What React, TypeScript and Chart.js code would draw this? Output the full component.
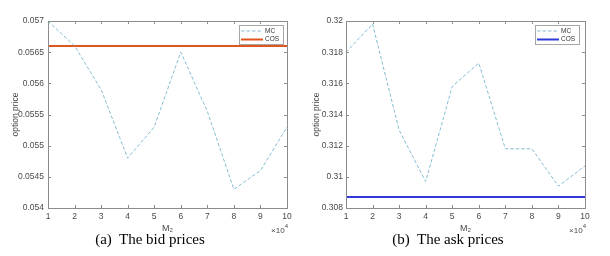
import React, { useEffect, useRef } from "react";
import { Chart, registerables } from "chart.js";

Chart.register(...registerables);

// ---------- data ----------
const M2 = [10000, 20000, 30000, 40000, 50000, 60000, 70000, 80000, 90000, 100000];
const xTickLabels = ["1", "2", "3", "4", "5", "6", "7", "8", "9", "10"];
const seriesNames = ["MC", "COS"];

const bidMC = [0.057, 0.0566, 0.0559, 0.0548, 0.0553, 0.0565, 0.05555, 0.0543, 0.0546, 0.0553];
const bidCOS = 0.0566;
const bidYTicks = [0.054, 0.0545, 0.055, 0.0555, 0.056, 0.0565, 0.057];

const askMC = [0.318, 0.3198, 0.313, 0.3097, 0.3158, 0.3173, 0.3118, 0.3118, 0.3094, 0.3107];
const askCOS = 0.3087;
const askYTicks = [0.308, 0.31, 0.312, 0.314, 0.316, 0.318, 0.32];

const captions = ["(a)  The bid prices", "(b)  The ask prices"];

// ---------- styling ----------
const MC_COLOR = "#86bdd3";
const COS_BID = "#e0561f";
const COS_ASK = "#2f3bd6";
const TEXT = "#4a4a4a";
const AXIS = "#8c8c8c";
const FONT = "'Liberation Sans', Arial, sans-serif";

const matlabAxes = {
  id: "matlabAxes",
  afterDraw(chart: any, _args: any, opts: any) {
    const { ctx, chartArea: a, scales } = chart;
    const xs = scales.x;
    const ys = scales.y;
    ctx.save();
    ctx.setLineDash([]);
    ctx.strokeStyle = AXIS;
    ctx.lineWidth = 1;
    ctx.strokeRect(a.left + 0.5, a.top + 0.5, a.right - a.left, a.bottom - a.top);
    const tl = 3;
    ctx.beginPath();
    xs.ticks.forEach((t: any) => {
      const p = Math.round(xs.getPixelForValue(t.value)) + 0.5;
      ctx.moveTo(p, a.bottom);
      ctx.lineTo(p, a.bottom - tl);
      ctx.moveTo(p, a.top);
      ctx.lineTo(p, a.top + tl);
    });
    ys.ticks.forEach((t: any) => {
      const p = Math.round(ys.getPixelForValue(t.value)) + 0.5;
      ctx.moveTo(a.left, p);
      ctx.lineTo(a.left + tl, p);
      ctx.moveTo(a.right, p);
      ctx.lineTo(a.right - tl, p);
    });
    ctx.stroke();

    // exponent label
    ctx.fillStyle = TEXT;
    ctx.font = `6px ${FONT}`;
    const w4 = ctx.measureText("4").width;
    const ex = a.right + 1;
    ctx.textAlign = "left";
    ctx.textBaseline = "alphabetic";
    ctx.fillText("4", ex - w4, 228);
    ctx.font = `8px ${FONT}`;
    ctx.textAlign = "right";
    ctx.fillText("\u00d710", ex - w4, 233);

    // legend
    const lw = 44;
    const lh = 19;
    const lx = a.right - opts.legendGap - lw;
    const ly = a.top + 4;
    ctx.fillStyle = "#ffffff";
    ctx.fillRect(lx, ly, lw, lh);
    ctx.strokeStyle = "#a6a6a6";
    ctx.lineWidth = 1;
    ctx.strokeRect(lx + 0.5, ly + 0.5, lw, lh);
    chart.data.datasets.forEach((ds: any, i: number) => {
      const yy = ly + 6 + i * 8.5;
      ctx.strokeStyle = ds.borderColor;
      ctx.lineWidth = ds.borderWidth;
      ctx.setLineDash(ds.borderDash || []);
      ctx.beginPath();
      ctx.moveTo(lx + 2, yy);
      ctx.lineTo(lx + 24, yy);
      ctx.stroke();
      ctx.setLineDash([]);
      ctx.fillStyle = "#333";
      ctx.font = `6.5px ${FONT}`;
      ctx.textAlign = "left";
      ctx.textBaseline = "middle";
      ctx.fillText(ds.label, lx + 26, yy);
    });
    ctx.restore();
  },
};

type PanelCfg = {
  left: number;
  width: number;
  plotLeft: number;
  plotRight: number;
  mc: number[];
  cos: number;
  cosColor: string;
  yTicks: number[];
  yLabelPad: number;
  yTitlePad: number;
  legendGap: number;
  caption: string;
  captionCenter: number;
};

function Panel({ cfg }: { cfg: PanelCfg }) {
  const ref = useRef<HTMLCanvasElement | null>(null);
  useEffect(() => {
    if (!ref.current) return;
    const H = 256;
    const top = 21;
    const bottom = 208;
    const xAxisH = 30;
    const tickFont = { family: FONT, size: 8.5 };
    const chart = new Chart(ref.current, {
      type: "line",
      data: {
        datasets: [
          {
            label: seriesNames[0],
            data: M2.map((x, i) => ({ x, y: cfg.mc[i] })),
            borderColor: MC_COLOR,
            borderWidth: 1,
            borderDash: [3.5, 2],
            pointRadius: 0,
            fill: false,
            tension: 0,
            clip: false as any,
          },
          {
            label: seriesNames[1],
            data: M2.map((x) => ({ x, y: cfg.cos })),
            borderColor: cfg.cosColor,
            borderWidth: 2,
            pointRadius: 0,
            fill: false,
            tension: 0,
          },
        ],
      },
      options: {
        animation: false,
        responsive: false,
        devicePixelRatio: 1,
        layout: {
          autoPadding: false,
          padding: {
            left: 0,
            top,
            right: cfg.width - cfg.plotRight,
            bottom: H - bottom - xAxisH,
          },
        },
        plugins: {
          legend: { display: false },
          tooltip: { enabled: false },
          matlabAxes: { legendGap: cfg.legendGap },
        } as any,
        scales: {
          x: {
            type: "linear",
            min: M2[0],
            max: M2[M2.length - 1],
            afterBuildTicks: (s: any) => {
              s.ticks = M2.map((v) => ({ value: v }));
            },
            afterFit: (s: any) => {
              s.height = xAxisH;
            },
            grid: { display: false, drawTicks: false, tickLength: 0 },
            border: { display: false },
            ticks: {
              padding: 3.5,
              font: tickFont,
              color: TEXT,
              maxRotation: 0,
              autoSkip: false,
              callback: (v: any) => xTickLabels[M2.indexOf(Number(v))] ?? "",
            },
            title: {
              display: true,
              text: "M\u2082",
              font: { family: FONT, size: 9 },
              color: TEXT,
              padding: { top: 0, bottom: 4.5 },
            },
          },
          y: {
            type: "linear",
            min: cfg.yTicks[0],
            max: cfg.yTicks[cfg.yTicks.length - 1],
            afterBuildTicks: (s: any) => {
              s.ticks = cfg.yTicks.map((v) => ({ value: v }));
            },
            afterFit: (s: any) => {
              s.width = cfg.plotLeft;
            },
            grid: { display: false, drawTicks: false, tickLength: 0 },
            border: { display: false },
            ticks: {
              padding: cfg.yLabelPad,
              font: tickFont,
              color: TEXT,
              autoSkip: false,
              callback: (v: any) => String(Number(Number(v).toFixed(5))),
            },
            title: {
              display: true,
              text: "option price",
              font: { family: FONT, size: 8.5 },
              color: TEXT,
              padding: { top: cfg.yTitlePad, bottom: 0 },
            },
          },
        },
      },
      plugins: [matlabAxes as any],
    });
    return () => chart.destroy();
  }, [cfg]);

  return (
    <>
      <canvas
        ref={ref}
        width={cfg.width}
        height={256}
        style={{ position: "absolute", left: cfg.left, top: 0, width: cfg.width, height: 256 }}
      />
      <div
        style={{
          position: "absolute",
          left: cfg.captionCenter - 150,
          width: 300,
          top: 232,
          textAlign: "center",
          fontFamily: "'Liberation Serif', 'Times New Roman', serif",
          fontSize: 15,
          lineHeight: "15px",
          whiteSpace: "pre",
          color: "#000",
        }}
      >
        {cfg.caption}
      </div>
    </>
  );
}

const leftCfg: PanelCfg = {
  left: 0,
  width: 305,
  plotLeft: 48,
  plotRight: 287,
  mc: bidMC,
  cos: bidCOS,
  cosColor: COS_BID,
  yTicks: bidYTicks,
  yLabelPad: 4,
  yTitlePad: 11,
  legendGap: 4,
  caption: captions[0],
  captionCenter: 150,
};

const rightCfg: PanelCfg = {
  left: 300,
  width: 310,
  plotLeft: 46,
  plotRight: 285,
  mc: askMC,
  cos: askCOS,
  cosColor: COS_ASK,
  yTicks: askYTicks,
  yLabelPad: 3,
  yTitlePad: 11.6,
  legendGap: 6,
  caption: captions[1],
  captionCenter: 448,
};

export default function App() {
  return (
    <div
      style={{
        position: "absolute",
        left: 0,
        top: 0,
        width: 610,
        height: 256,
        background: "#ffffff",
        overflow: "hidden",
      }}
    >
      <Panel cfg={leftCfg} />
      <Panel cfg={rightCfg} />
    </div>
  );
}
